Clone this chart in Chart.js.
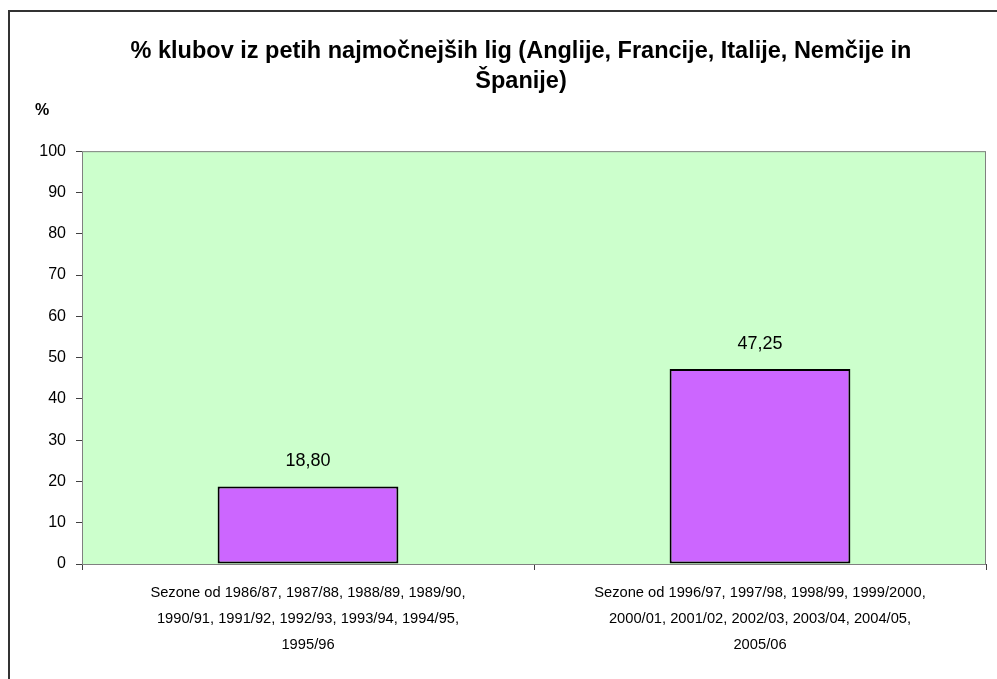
<!DOCTYPE html>
<html>
<head>
<meta charset="utf-8">
<script src="https://cdn.jsdelivr.net/npm/chart.js@4/dist/chart.umd.min.js"></script>
<style>
  html, body { margin: 0; padding: 0; background: #fff; overflow: hidden; width: 997px; height: 679px; }
  #frame { position: absolute; left: 8px; top: 10px; width: 1040px; height: 720px; border-left: 2px solid #333; border-top: 2px solid #333; }
  #chart { position: absolute; left: 10px; top: 12px; }
</style>
</head>
<body>
<div id="frame"></div>
<canvas id="chart" width="1022" height="680"></canvas>
<script>
// chart data
const categories = [
  ['Sezone od 1986/87, 1987/88, 1988/89, 1989/90,', '1990/91, 1991/92, 1992/93, 1993/94, 1994/95,', '1995/96'],
  ['Sezone od 1996/97, 1997/98, 1998/99, 1999/2000,', '2000/01, 2001/02, 2002/03, 2003/04, 2004/05,', '2005/06']
];
const values = [18.80, 47.25];
const titleLines = ['% klubov iz petih najmočnejših lig (Anglije, Francije, Italije, Nemčije in', 'Španije)'];
const yTitle = '%';

const FONT = '"Liberation Sans", Arial, sans-serif';

// green plot area with grey border
const plotBg = {
  id: 'plotBg',
  beforeDatasetsDraw(chart) {
    const a = chart.chartArea, ctx = chart.ctx;
    ctx.save();
    ctx.fillStyle = '#ccffcc';
    ctx.fillRect(a.left, a.top, a.right - a.left, a.bottom - a.top);
    ctx.strokeStyle = '#808080';
    ctx.lineWidth = 1;
    ctx.strokeRect(a.left + 0.5, a.top + 0.5, a.right - a.left - 1, a.bottom - a.top);
    ctx.restore();
  }
};

// value labels above bars and the "%" axis caption
const labels = {
  id: 'labels',
  afterDraw(chart) {
    const ctx = chart.ctx, a = chart.chartArea;
    ctx.save();
    ctx.fillStyle = '#000';
    ctx.textAlign = 'center';
    ctx.textBaseline = 'middle';
    ctx.font = '18px ' + FONT;
    chart.getDatasetMeta(0).data.forEach(function(bar, i) {
      ctx.fillText(values[i].toFixed(2).replace('.', ','), bar.x, bar.y - 25);
    });
    ctx.font = 'bold 16px ' + FONT;
    ctx.fillText(yTitle, a.left - 40, a.top - 41);
    ctx.restore();
  }
};

new Chart(document.getElementById('chart'), {
  type: 'bar',
  data: {
    labels: categories,
    datasets: [{
      data: values,
      backgroundColor: '#cc66ff',
      borderColor: '#000',
      borderWidth: 2,
      borderSkipped: false,
      barPercentage: 0.4,
      categoryPercentage: 1
    }]
  },
  options: {
    responsive: false,
    animation: false,
    devicePixelRatio: 1,
    layout: { padding: 0 },
    plugins: {
      legend: { display: false },
      tooltip: { enabled: false },
      title: {
        display: true,
        text: titleLines,
        color: '#000',
        font: { family: FONT, size: 23.5, weight: 'bold', lineHeight: 1.28 },
        padding: { top: 24, bottom: 55 }
      }
    },
    scales: {
      x: {
        afterFit(scale) { scale.height = 128; },
        grid: { drawOnChartArea: false, offset: true, tickLength: 6, color: '#404040' },
        border: { color: '#404040', width: 1 },
        ticks: {
          color: '#000',
          padding: 10,
          maxRotation: 0,
          autoSkip: false,
          font: { family: FONT, size: 14.7, lineHeight: 1.77 }
        }
      },
      y: {
        min: 0,
        max: 100,
        afterFit(scale) { scale.width = 72; },
        grid: { drawOnChartArea: false, tickLength: 6, color: '#404040' },
        border: { color: '#808080', width: 1 },
        ticks: {
          stepSize: 10,
          color: '#000',
          padding: 10,
          font: { family: FONT, size: 16 }
        }
      },
      // empty right-hand axis, only reserves space right of the plot
      yRight: {
        position: 'right',
        afterFit(scale) { scale.width = 46; },
        grid: { display: false },
        border: { display: false },
        ticks: { display: false }
      }
    }
  },
  plugins: [plotBg, labels]
});
</script>
</body>
</html>
